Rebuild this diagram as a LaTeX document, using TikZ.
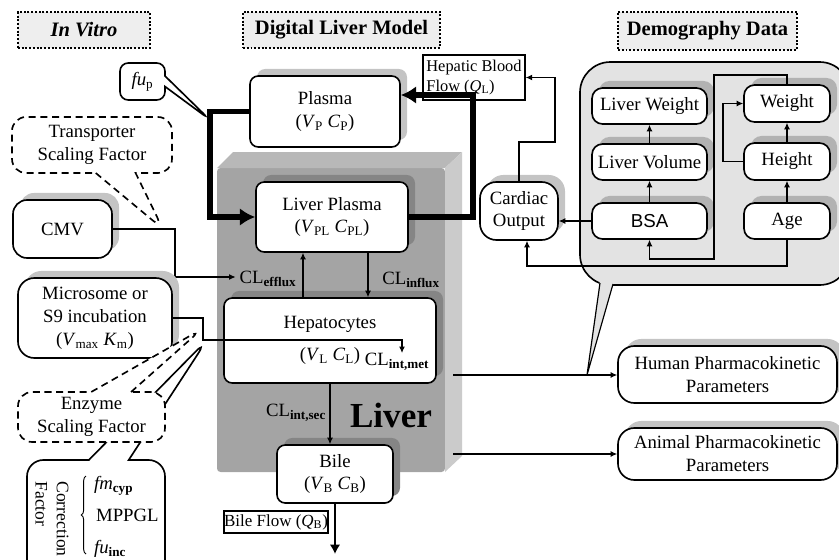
\documentclass[tikz,border=0pt]{standalone}
\usepackage{fontspec}
\setmainfont{Liberation Serif}
\newfontfamily\bsafont{Liberation Sans}
\usetikzlibrary{arrows.meta,shapes.callouts,shadows,decorations.pathreplacing}
\definecolor{titlefill}{HTML}{EEEEEE}
\definecolor{shadowgrey}{HTML}{C4C4C4}
\definecolor{liverfront}{HTML}{A4A4A4}
\definecolor{livertop}{HTML}{B8B8B8}
\definecolor{liverside}{HTML}{CBCBCB}
\definecolor{livershadow}{HTML}{858585}
\definecolor{panelfill}{HTML}{E3E3E3}
\definecolor{panelshadow}{HTML}{B2B2B2}
\newcommand{\vs}[2]{\textit{#1}\textsubscript{#2}}
\newcommand{\clsub}[1]{CL\textsubscript{\textbf{#1}}}
\begin{document}
\begin{tikzpicture}[x=0.03cm,y=-0.03cm,
  every node/.style={font=\fontsize{16}{19.5}\selectfont},
  boxsize/.style 2 args={minimum width=#1*0.03cm,minimum height=#2*0.03cm},
  cellbox/.style={draw,line width=1.4pt,rounded corners=7pt,fill=white,inner sep=0pt,align=center},
  heading/.style={draw,fill=titlefill,line width=1.3pt,dash pattern=on 1.6pt off 1.6pt,inner sep=0pt,font=\fontsize{17.5}{20}\selectfont\bfseries},
  boxshadow/.style={drop shadow={shadow xshift=6pt,shadow yshift=6pt,fill=#1,opacity=1}},
  boxshadow/.default=shadowgrey,
  calloutbox/.style={rectangle callout,draw,fill=white,line width=1.4pt,rounded corners=7pt,inner sep=0pt,align=center},
  dashedline/.style={dash pattern=on 6pt off 4pt},
  arr/.style={line width=0.9pt,-{Latex[length=5.5pt,width=5pt]}},
  flowline/.style={line width=5pt,-{Latex[length=13pt,width=15pt]}},
]
  \useasboundingbox (0,0) rectangle (839,559);
  \clip (0,0) rectangle (839,559);

  \node[heading,boxsize={132}{36}] (invitro) at (84,30) {\itshape In Vitro};
  \node[heading,boxsize={197}{36}] (dlm) at (341.5,30) {Digital Liver Model};
  \node[heading,boxsize={179}{38}] (demo) at (707.5,31) {Demography Data};

  \fill[liverfront,rounded corners=3pt] (217,168) rectangle (445,472);
  \fill[livertop] (217,168) -- (233,152) -- (462,152) -- (445,168) -- cycle;
  \fill[liverside] (445,168) -- (462,152) -- (462,456) -- (445,472) -- cycle;
  \node[font=\fontsize{30}{30}\selectfont\bfseries] (livertxt) at (391,415) {Liver};

  \node[cellbox,boxshadow,boxsize={150}{71}] (plasma) at (325,111.5) {Plasma\\(\vs{V}{P} \vs{C}{P})};
  \coordinate (loopL) at (210,217);
  \coordinate (loopR) at (473,95);
  \node[cellbox,boxshadow=livershadow,boxsize={152}{70}] (lp) at (332,217) {Liver Plasma\\(\vs{V}{PL} \vs{C}{PL})};
  \draw[flowline] (plasma.west) -| (loopL) -- (lp.west);
  \draw[flowline] (lp.east) -| (loopR) -- (loopR -| plasma.east);
  \node[cellbox,boxshadow=livershadow,boxsize={212}{85}] (hep) at (330,340.5) {Hepatocytes\\[8pt](\vs{V}{L} \vs{C}{L})};
  \node[cellbox,boxshadow=livershadow,boxsize={116}{58}] (bile) at (335,474) {Bile\\(\vs{V}{B} \vs{C}{B})};

  \coordinate (effx) at (303,0);
  \coordinate (infx) at (368,0);
  \draw[arr] (effx |- hep.north) -- (effx |- lp.south);
  \draw[arr] (infx |- lp.south) -- (infx |- hep.north);
  \node (efflab) at (268,279) {\clsub{efflux}};
  \node (inflab) at (411,280) {\clsub{influx}};
  \node (metlab) at (397,362) {\clsub{int,met}};
  \node (seclab) at (296,413) {\clsub{int,sec}};
  \draw[arr] (hep.south) -- (hep.south |- bile.north);

  \node[draw,line width=1.4pt,inner sep=0pt,boxsize={104}{22},font=\fontsize{14.5}{16}\selectfont] (bileflow) at (276,522) {Bile Flow (\vs{Q}{B})};
  \coordinate (bileend) at (335,554);
  \draw[line width=2.5pt,-{Latex[length=8pt,width=9pt]}] (bile.south) -- (bileend);

  \coordinate (fupt) at (209,119);
  \node[calloutbox,callout absolute pointer={(fupt)},callout pointer width=9pt,boxsize={45}{37}] (fup) at (142.5,81.5) {\textit{fu}\textsubscript{p}};

  \node[cellbox,boxshadow,rounded corners=12pt,boxsize={99}{58}] (cmv) at (62.5,229) {CMV};
  \coordinate (cmvbend) at (175,277);
  \draw[arr] (cmv.east) -| (cmvbend) -- (cmvbend -| efflab.west);
  \coordinate (tsfpt) at (163,229);
  \node[calloutbox,dashedline,callout absolute pointer={(tsfpt)},callout pointer width=34pt,rounded corners=12pt,boxsize={160}{56}] (tsf) at (92,145) {Transporter\\Scaling Factor};

  \node[cellbox,boxshadow,rounded corners=14pt,boxsize={154}{80}] (mic) at (95,318) {Microsome or\\S9 incubation\\(\vs{V}{max} \vs{K}{m})};
  \coordinate (micbend) at (203,340);
  \coordinate (metend) at (402,353);
  \draw[arr] (mic.east) -| (micbend) -- (micbend -| metend) -- (metend);

  \coordinate (corpt) at (207,340);
  \node[calloutbox,callout absolute pointer={(corpt)},callout pointer width=34pt,rounded corners=14pt,boxsize={138}{120}] (corr) at (96,520) {};
  \coordinate (enzpt) at (202,329);
  \node[calloutbox,dashedline,callout absolute pointer={(enzpt)},callout pointer width=34pt,rounded corners=12pt,boxsize={147}{50}] (enz) at (91.5,417) {Enzyme\\Scaling Factor};
  \node[rotate=-90,align=left,font=\fontsize{15}{18}\selectfont] (corrtxt) at (52,519) {Correction\\Factor};
  \draw[decorate,decoration={brace,amplitude=4pt},line width=0.8pt] (86,554) -- (86,476);
  \node[anchor=west] (fm) at (90,486) {\textit{fm}\textsubscript{\textbf{cyp}}};
  \node[anchor=west] (mppgl) at (92,515) {MPPGL};
  \node[anchor=west] (fuinc) at (90,549) {\textit{fu}\textsubscript{\textbf{inc}}};

  \node[draw,fill=panelfill,line width=1.4pt,rounded corners=26pt,inner sep=0pt,boxsize={270}{223}] (panel) at (715,173.5) {};
  \coordinate (dempt) at (587,375);
  \coordinate (tailA) at (600,283);
  \coordinate (tailB) at (613,284);
  \fill[panelfill] (600,280) -- (dempt) -- (614,281) -- cycle;
  \draw[line width=1pt] (tailA) -- (dempt) -- (tailB);

  \node[cellbox,boxshadow=panelshadow,rounded corners=9pt,boxsize={115}{36}] (lw) at (649.5,106) {Liver Weight};
  \node[cellbox,boxshadow=panelshadow,rounded corners=9pt,boxsize={115}{36}] (lv) at (649.5,162) {Liver Volume};
  \node[cellbox,boxshadow=panelshadow,rounded corners=9pt,boxsize={115}{36}] (bsa) at (649.5,221) {\bsafont BSA};
  \node[cellbox,boxshadow=panelshadow,rounded corners=9pt,boxsize={86}{37}] (weight) at (787,103.5) {Weight};
  \node[cellbox,boxshadow=panelshadow,rounded corners=9pt,boxsize={86}{37}] (height) at (787,161.5) {Height};
  \node[cellbox,boxshadow=panelshadow,rounded corners=9pt,boxsize={86}{36}] (age) at (787,221) {Age};
  \node[cellbox,boxshadow,rounded corners=14pt,boxsize={78}{58}] (co) at (519,211) {Cardiac\\Output};
  \node[draw,line width=1.2pt,inner sep=0pt,align=left,boxsize={102}{45},font=\fontsize{14}{17}\selectfont] (hbf) at (474,77.5) {Hepatic Blood\\Flow (\vs{Q}{L})};

  \draw[arr] (lv.north) -- (lw.south);
  \draw[arr] (bsa.north) -- (lv.south);
  \draw[arr] (height.north) -- (weight.south);
  \draw[arr] (age.north) -- (height.south);
  \coordinate (hw) at (723,103.5);
  \draw[arr] (height.west) -| (hw) -- (weight.west);
  \coordinate (wt1) at (714,75);
  \coordinate (wt2) at (714,259);
  \draw[arr] (weight.north) |- (wt1) -- (wt2) -| (bsa.south);
  \coordinate (ag1) at (527,266);
  \draw[arr] (age.south) |- (ag1) -- (ag1 |- co.south);
  \draw[arr] (bsa.west) -- (bsa.west -| co.east);
  \coordinate (co1) at (555,142);
  \draw[arr] (co.north) |- (co1) |- (hbf.east);

  \node[cellbox,boxshadow,rounded corners=14pt,boxsize={219}{57}] (hpk) at (727.5,374.5) {Human Pharmacokinetic\\Parameters};
  \node[cellbox,boxshadow,rounded corners=14pt,boxsize={219}{52}] (apk) at (727.5,454) {Animal Pharmacokinetic\\Parameters};
  \coordinate (hstart) at (453,375);
  \coordinate (astart) at (453,454);
  \draw[arr] (hstart) -- (hstart -| hpk.west);
  \draw[arr] (astart) -- (astart -| apk.west);
\end{tikzpicture}
\end{document}
